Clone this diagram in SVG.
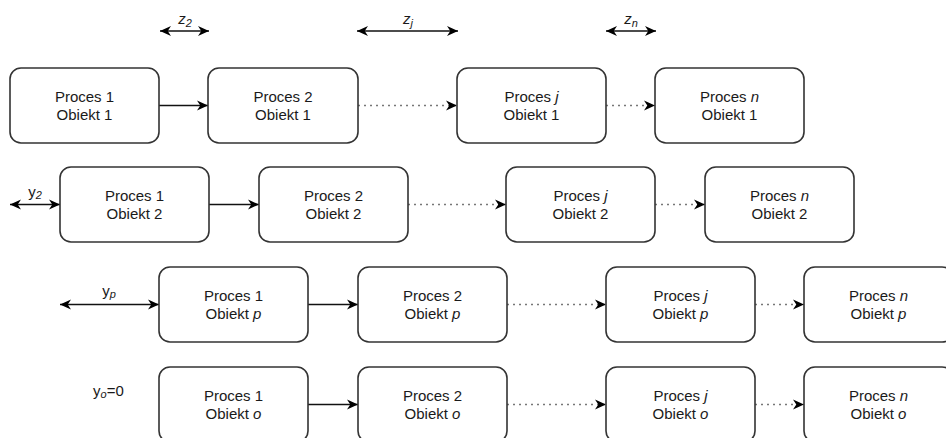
<svg xmlns="http://www.w3.org/2000/svg" width="946" height="438" viewBox="0 0 946 438">
  <defs>
    <style>
      .box { fill: #ffffff; stroke: #333333; stroke-width: 1.6; }
      .lbl { font-family: "Liberation Sans", Arial, sans-serif; font-size: 15px; fill: #1a1a1a; text-anchor: middle; }
      .dim { font-family: "Liberation Sans", Arial, sans-serif; font-size: 15px; fill: #1a1a1a; }
      .sub { font-size: 11px; }
      .solid { fill: none; stroke: #111111; stroke-width: 1.6; }
      .dot { fill: none; stroke: #777777; stroke-width: 1.4; stroke-dasharray: 2 4; }
    </style>
    <marker id="head" viewBox="0 0 10 10" refX="10" refY="5" markerWidth="11" markerHeight="11" markerUnits="userSpaceOnUse" orient="auto-start-reverse">
      <path d="M0,0.5 L10,5 L0,9.5 L3,5 Z" fill="#000000"/>
    </marker>
  </defs>
  <rect width="946" height="438" fill="#ffffff"/>

  <!-- connectors between processes and dimension arrows -->
  <g id="connectors">
    <!-- row 1 -->
    <line class="solid" x1="159" y1="105.5" x2="208" y2="105.5" marker-end="url(#head)"/>
    <line class="dot" x1="358" y1="105.5" x2="457" y2="105.5" marker-end="url(#head)"/>
    <line class="dot" x1="606" y1="105.5" x2="655" y2="105.5" marker-end="url(#head)"/>
    <!-- row 2 -->
    <line class="solid" x1="209" y1="204.5" x2="259" y2="204.5" marker-end="url(#head)"/>
    <line class="dot" x1="408" y1="204.5" x2="506" y2="204.5" marker-end="url(#head)"/>
    <line class="dot" x1="655" y1="204.5" x2="705" y2="204.5" marker-end="url(#head)"/>
    <!-- row 3 -->
    <line class="solid" x1="308" y1="304.5" x2="358" y2="304.5" marker-end="url(#head)"/>
    <line class="dot" x1="507" y1="304.5" x2="606" y2="304.5" marker-end="url(#head)"/>
    <line class="dot" x1="755" y1="304.5" x2="804" y2="304.5" marker-end="url(#head)"/>
    <!-- row 4 -->
    <line class="solid" x1="308" y1="404.5" x2="358" y2="404.5" marker-end="url(#head)"/>
    <line class="dot" x1="507" y1="404.5" x2="606" y2="404.5" marker-end="url(#head)"/>
    <line class="dot" x1="755" y1="404.5" x2="804" y2="404.5" marker-end="url(#head)"/>
    <!-- offsets between processes -->
    <line class="solid" x1="160" y1="31" x2="209" y2="31" marker-start="url(#head)" marker-end="url(#head)"/>
    <line class="solid" x1="357" y1="31" x2="458" y2="31" marker-start="url(#head)" marker-end="url(#head)"/>
    <line class="solid" x1="606" y1="31" x2="656" y2="31" marker-start="url(#head)" marker-end="url(#head)"/>
    <!-- offsets between objects -->
    <line class="solid" x1="10" y1="204.5" x2="60" y2="204.5" marker-start="url(#head)" marker-end="url(#head)"/>
    <line class="solid" x1="60" y1="304.5" x2="159" y2="304.5" marker-start="url(#head)" marker-end="url(#head)"/>
  </g>

  <!-- dimension labels -->
  <g id="labels">
    <text class="dim" x="185" y="24" text-anchor="middle"><tspan font-style="italic">z</tspan><tspan class="sub" font-style="italic" dy="3">2</tspan></text>
    <text class="dim" x="408" y="24" text-anchor="middle"><tspan font-style="italic">z</tspan><tspan class="sub" font-style="italic" dy="3">j</tspan></text>
    <text class="dim" x="631" y="24" text-anchor="middle"><tspan font-style="italic">z</tspan><tspan class="sub" font-style="italic" dy="3">n</tspan></text>
    <text class="dim" x="35" y="197" text-anchor="middle">y<tspan class="sub" font-style="italic" dy="2">2</tspan></text>
    <text class="dim" x="109" y="296" text-anchor="middle">y<tspan class="sub" font-style="italic" dy="2">p</tspan></text>
    <text class="dim" x="93" y="396">y<tspan class="sub" font-style="italic" dy="2">o</tspan><tspan dy="-2">=0</tspan></text>
  </g>

  <!-- object 1 -->
  <g id="p1-o1"><rect class="box" x="10" y="68" width="149" height="75" rx="11"/><text class="lbl" x="84.5" y="102">Proces 1<tspan x="84.5" dy="18">Obiekt 1</tspan></text></g>
  <g id="p2-o1"><rect class="box" x="208" y="68" width="150" height="75" rx="11"/><text class="lbl" x="283" y="102">Proces 2<tspan x="283" dy="18">Obiekt 1</tspan></text></g>
  <g id="pj-o1"><rect class="box" x="457" y="68" width="149" height="75" rx="11"/><text class="lbl" x="531.5" y="102">Proces <tspan font-style="italic">j</tspan><tspan x="531.5" dy="18">Obiekt 1</tspan></text></g>
  <g id="pn-o1"><rect class="box" x="655" y="68" width="149" height="75" rx="11"/><text class="lbl" x="729.5" y="102">Proces <tspan font-style="italic">n</tspan><tspan x="729.5" dy="18">Obiekt 1</tspan></text></g>

  <!-- object 2 -->
  <g id="p1-o2"><rect class="box" x="60" y="167" width="149" height="75" rx="11"/><text class="lbl" x="134.5" y="201">Proces 1<tspan x="134.5" dy="18">Obiekt 2</tspan></text></g>
  <g id="p2-o2"><rect class="box" x="259" y="167" width="149" height="75" rx="11"/><text class="lbl" x="333.5" y="201">Proces 2<tspan x="333.5" dy="18">Obiekt 2</tspan></text></g>
  <g id="pj-o2"><rect class="box" x="506" y="167" width="149" height="75" rx="11"/><text class="lbl" x="580.5" y="201">Proces <tspan font-style="italic">j</tspan><tspan x="580.5" dy="18">Obiekt 2</tspan></text></g>
  <g id="pn-o2"><rect class="box" x="705" y="167" width="149" height="75" rx="11"/><text class="lbl" x="779.5" y="201">Proces <tspan font-style="italic">n</tspan><tspan x="779.5" dy="18">Obiekt 2</tspan></text></g>

  <!-- object p -->
  <g id="p1-op"><rect class="box" x="159" y="267" width="149" height="75" rx="11"/><text class="lbl" x="233.5" y="301">Proces 1<tspan x="233.5" dy="18">Obiekt <tspan font-style="italic">p</tspan></tspan></text></g>
  <g id="p2-op"><rect class="box" x="358" y="267" width="149" height="75" rx="11"/><text class="lbl" x="432.5" y="301">Proces 2<tspan x="432.5" dy="18">Obiekt <tspan font-style="italic">p</tspan></tspan></text></g>
  <g id="pj-op"><rect class="box" x="606" y="267" width="149" height="75" rx="11"/><text class="lbl" x="680.5" y="301">Proces <tspan font-style="italic">j</tspan><tspan x="680.5" dy="18">Obiekt <tspan font-style="italic">p</tspan></tspan></text></g>
  <g id="pn-op"><rect class="box" x="804" y="267" width="149" height="75" rx="11"/><text class="lbl" x="878.5" y="301">Proces <tspan font-style="italic">n</tspan><tspan x="878.5" dy="18">Obiekt <tspan font-style="italic">p</tspan></tspan></text></g>

  <!-- object o -->
  <g id="p1-oo"><rect class="box" x="159" y="367" width="149" height="75" rx="11"/><text class="lbl" x="233.5" y="401">Proces 1<tspan x="233.5" dy="18">Obiekt <tspan font-style="italic">o</tspan></tspan></text></g>
  <g id="p2-oo"><rect class="box" x="358" y="367" width="149" height="75" rx="11"/><text class="lbl" x="432.5" y="401">Proces 2<tspan x="432.5" dy="18">Obiekt <tspan font-style="italic">o</tspan></tspan></text></g>
  <g id="pj-oo"><rect class="box" x="606" y="367" width="149" height="75" rx="11"/><text class="lbl" x="680.5" y="401">Proces <tspan font-style="italic">j</tspan><tspan x="680.5" dy="18">Obiekt <tspan font-style="italic">o</tspan></tspan></text></g>
  <g id="pn-oo"><rect class="box" x="804" y="367" width="149" height="75" rx="11"/><text class="lbl" x="878.5" y="401">Proces <tspan font-style="italic">n</tspan><tspan x="878.5" dy="18">Obiekt <tspan font-style="italic">o</tspan></tspan></text></g>
</svg>
